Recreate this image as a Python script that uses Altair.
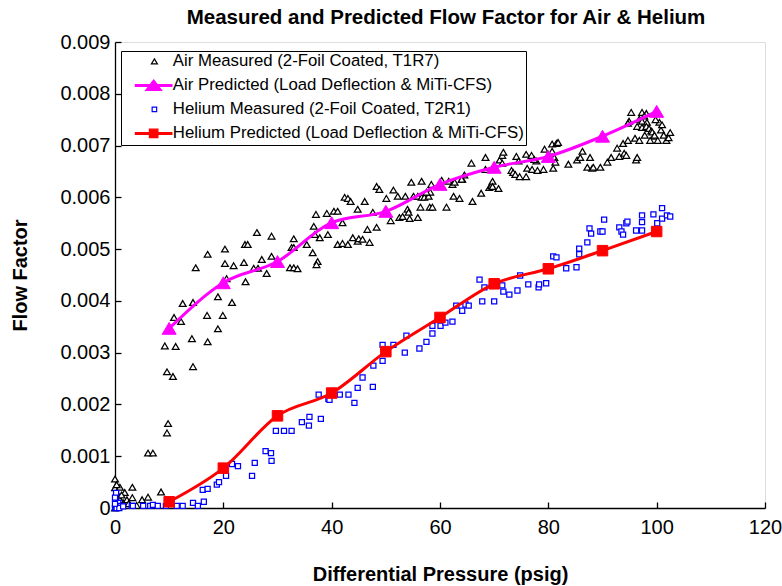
import altair as alt
import pandas as pd

S_AM = "Air Measured (2-Foil Coated, T1R7)"
S_AP = "Air Predicted (Load Deflection & MiTi-CFS)"
S_HM = "Helium Measured (2-Foil Coated, T2R1)"
S_HP = "Helium Predicted (Load Deflection & MiTi-CFS)"
SERIES = [S_AM, S_AP, S_HM, S_HP]
COLORS = ["#000000", "#FF00FF", "#0000FF", "#FF0000"]

x_ticks = [0, 20, 40, 60, 80, 100, 120]
y_ticks = [0, 0.001, 0.002, 0.003, 0.004, 0.005, 0.006, 0.007, 0.008, 0.009]

air_measured = [
    (0.0, 0.00056), (0.0, 0.00039), (0.9, 0.00040), (0.3, 0.00030), (0.5, 0.00020), (0.2, 0.00010),
    (1.0, 0.00015), (1.5, 0.00010), (0.7, 0.00005), (2.2, 0.00016), (0.9, 0.00016), (3.2, 0.00020),
    (3.2, 0.00040), (5.0, 0.00016), (6.1, 0.00021), (8.5, 0.00031), (1.8, 0.00030), (2.5, 0.00008),
    (4.0, 0.00005), (0.0, 0.00000), (0.3, 0.00045), (1.2, 0.00025),
    (6.1, 0.00106), (7.0, 0.00106), (9.8, 0.00163), (9.6, 0.00145), (9.6, 0.00263), (10.7, 0.00254),
    (14.4, 0.00273),
    (9.2, 0.00313), (11.2, 0.00312), (10.9, 0.00368), (12.2, 0.00360), (12.5, 0.00395), (14.4, 0.00397),
    (14.2, 0.00327), (14.9, 0.00464), (17.1, 0.00490), (17.0, 0.00372), (17.1, 0.00321), (19.0, 0.00346),
    (19.0, 0.00408), (19.9, 0.00372), (20.3, 0.00500), (20.3, 0.00472), (20.6, 0.00443), (21.6, 0.00397),
    (21.9, 0.00468), (23.8, 0.00474), (24.1, 0.00437), (24.0, 0.00509), (24.5, 0.00509), (26.2, 0.00532),
    (27.1, 0.00480), (25.6, 0.00463), (26.4, 0.00463), (28.0, 0.00453), (28.9, 0.00525), (28.9, 0.00486),
    (33.0, 0.00520), (32.6, 0.00503), (33.0, 0.00503), (32.3, 0.00464), (33.0, 0.00464), (33.7, 0.00462),
    (35.4, 0.00509), (36.5, 0.00493), (37.1, 0.00567), (36.7, 0.00544), (36.9, 0.00528), (37.8, 0.00522),
    (37.4, 0.00476), (37.2, 0.00470), (39.1, 0.00569), (39.3, 0.00528), (40.4, 0.00573), (41.1, 0.00573),
    (42.0, 0.00551), (42.4, 0.00600), (43.0, 0.00598), (43.5, 0.00592), (44.8, 0.00577), (46.1, 0.00592),
    (41.1, 0.00509), (42.0, 0.00511), (43.0, 0.00509), (43.9, 0.00522), (44.8, 0.00515), (45.0, 0.00520),
    (46.6, 0.00538),
    (47.6, 0.00571), (48.3, 0.00542), (45.7, 0.00519), (47.0, 0.00513), (48.3, 0.00621), (48.8, 0.00615),
    (50.1, 0.00598), (50.9, 0.00555), (51.4, 0.00614), (52.2, 0.00602), (52.5, 0.00561), (53.1, 0.00563),
    (53.6, 0.00602), (54.0, 0.00577), (54.2, 0.00571), (54.4, 0.00559), (54.7, 0.00629), (56.6, 0.00631),
    (55.1, 0.00602), (55.9, 0.00602), (56.6, 0.00600), (57.1, 0.00600), (57.9, 0.00602), (58.2, 0.00610),
    (55.9, 0.00561), (56.4, 0.00581), (58.1, 0.00581), (58.6, 0.00581), (57.5, 0.00610), (58.4, 0.00625),
    (60.3, 0.00633), (61.2, 0.00581), (61.6, 0.00631), (62.3, 0.00625), (62.5, 0.00602), (63.6, 0.00598),
    (64.5, 0.00643), (64.1, 0.00635), (66.0, 0.00592), (67.6, 0.00608), (68.4, 0.00677), (68.4, 0.00654),
    (69.1, 0.00619), (69.5, 0.00623), (69.7, 0.00631), (69.7, 0.00621), (70.8, 0.00617), (71.0, 0.00672),
    (71.5, 0.00681), (71.7, 0.00687), (71.5, 0.00666), (73.2, 0.00652), (73.5, 0.00648), (73.9, 0.00644),
    (74.1, 0.00679), (74.7, 0.00640), (74.5, 0.00670), (75.9, 0.00683), (76.9, 0.00681), (76.1, 0.00656),
    (75.9, 0.00640), (77.0, 0.00654), (78.0, 0.00652), (77.8, 0.00670), (65.8, 0.00666), (62.7, 0.00629),
    (64.0, 0.00635),
    (79.3, 0.00693), (79.1, 0.00654), (77.4, 0.00673), (80.7, 0.00703), (81.5, 0.00704), (81.8, 0.00706),
    (80.7, 0.00689), (81.1, 0.00677), (81.3, 0.00668), (80.9, 0.00656), (83.7, 0.00664), (85.3, 0.00672),
    (85.9, 0.00677), (86.3, 0.00689), (87.7, 0.00677), (87.2, 0.00658), (88.1, 0.00656), (88.3, 0.00658),
    (89.6, 0.00658), (90.9, 0.00668), (91.6, 0.00677), (92.7, 0.00695), (93.8, 0.00704), (94.7, 0.00710),
    (96.0, 0.00714), (96.8, 0.00710), (93.1, 0.00679), (94.0, 0.00685), (94.4, 0.00681), (96.2, 0.00672),
    (96.4, 0.00677), (95.3, 0.00764), (94.9, 0.00747), (94.7, 0.00743), (97.3, 0.00764), (98.1, 0.00762),
    (97.7, 0.00757), (96.8, 0.00751), (97.3, 0.00747), (98.2, 0.00745), (96.4, 0.00737), (97.3, 0.00735),
    (98.1, 0.00737), (98.6, 0.00733), (99.0, 0.00728), (99.2, 0.00726), (99.5, 0.00718), (99.6, 0.00720),
    (100.2, 0.00710), (100.8, 0.00730), (101.3, 0.00720), (101.8, 0.00710), (102.2, 0.00715),
    (100.5, 0.00745), (101.0, 0.00740), (99.8, 0.00750), (102.5, 0.00725), (98.8, 0.00710), (97.8, 0.00720),
]

helium_measured = [
    (0.0, 0.00000), (0.1, 0.00002), (0.2, 0.00005), (0.3, 0.00010), (0.1, 0.00015), (0.4, 0.00008),
    (0.5, 0.00003), (0.6, 0.00010), (0.2, 0.00029), (0.0, 0.00020), (1.0, 0.00004), (0.3, 0.00000),
    (0.8, 0.00000), (0.0, 0.00008), (1.5, 0.00003),
    (3.1, 0.00004), (3.3, 0.00004), (5.2, 0.00004), (6.5, 0.00004), (7.0, 0.00006), (7.9, 0.00004),
    (9.4, 0.00004), (11.4, 0.00004), (12.5, 0.00004), (14.4, 0.00010), (15.3, 0.00004), (16.4, 0.00012),
    (16.2, 0.00035), (17.1, 0.00037), (18.8, 0.00045), (19.2, 0.00050), (20.5, 0.00062), (21.6, 0.00085),
    (22.7, 0.00081), (25.3, 0.00062), (25.8, 0.00087), (27.8, 0.00110), (28.8, 0.00106), (28.9, 0.00091),
    (29.7, 0.00149), (31.2, 0.00149), (32.6, 0.00149), (34.5, 0.00166), (35.8, 0.00159), (35.9, 0.00176),
    (38.0, 0.00172), (37.6, 0.00219), (39.4, 0.00211), (41.5, 0.00219), (43.1, 0.00219), (44.2, 0.00203),
    (44.8, 0.00232), (47.6, 0.00234), (39.6, 0.00209), (45.7, 0.00252), (47.7, 0.00275), (49.4, 0.00284),
    (49.4, 0.00315), (51.4, 0.00315), (53.5, 0.00300), (53.8, 0.00333), (56.2, 0.00308), (57.5, 0.00321),
    (58.6, 0.00337), (58.6, 0.00352), (60.1, 0.00352), (61.0, 0.00358), (62.3, 0.00360), (63.0, 0.00391),
    (64.7, 0.00393), (65.3, 0.00391), (64.1, 0.00381), (67.3, 0.00441), (68.2, 0.00426), (67.8, 0.00399),
    (70.0, 0.00399), (71.5, 0.00430), (71.7, 0.00418), (72.8, 0.00412), (74.3, 0.00420), (74.8, 0.00449),
    (76.3, 0.00432), (78.2, 0.00426), (78.3, 0.00432), (79.6, 0.00434), (80.9, 0.00486), (81.5, 0.00484),
    (83.3, 0.00463), (85.2, 0.00465), (85.7, 0.00501), (85.7, 0.00490), (87.2, 0.00513), (87.6, 0.00540),
    (87.9, 0.00530), (89.6, 0.00534), (90.0, 0.00534), (90.3, 0.00557), (93.1, 0.00542), (93.5, 0.00534),
    (93.8, 0.00528), (94.4, 0.00550), (94.6, 0.00553), (96.2, 0.00536), (97.3, 0.00536), (97.3, 0.00552),
    (97.3, 0.00565), (99.4, 0.00567), (100.1, 0.00550), (101.0, 0.00579), (101.0, 0.00559), (101.9, 0.00565),
    (102.5, 0.00563),
]

predicted_x = [10, 20, 30, 40, 50, 60, 70, 80, 90, 100]
air_predicted = [0.00347, 0.00435, 0.00476, 0.00551, 0.00573, 0.00625, 0.00658, 0.00679, 0.00718, 0.00766]
helium_predicted = [0.00012, 0.00077, 0.00178, 0.00222, 0.00302, 0.00368, 0.00433, 0.00462, 0.00497, 0.00534]

# ---------- tables ----------
df_am = pd.DataFrame(air_measured, columns=["x", "y"]).assign(series=S_AM)
df_hm = pd.DataFrame(helium_measured, columns=["x", "y"]).assign(series=S_HM)
df_ap = pd.DataFrame({"x": predicted_x, "y": air_predicted, "series": S_AP})
df_hp = pd.DataFrame({"x": predicted_x, "y": helium_predicted, "series": S_HP})
df_leg = pd.concat([df_am.head(1), df_ap, df_hm.head(1), df_hp], ignore_index=True)

FONT = "Liberation Sans"

# chart marker shapes
TRI = "M0,-0.85L1,0.85L-1,0.85Z"
SQ = "M-0.75,-0.75H0.75V0.75H-0.75Z"

# legend symbol shapes (unit = 5 px with symbolSize 100); the line samples stop
# short on the right so that they do not run into the labels
LEG_SHAPES = [
    "M-0.2,-0.5L0.4,0.5L-0.8,0.5Z",
    "M-4.0,-0.18H3.3V0.18H-4.0Z M-0.35,-1.1L1.25,1.0L-1.95,1.0Z",
    "M-0.65,-0.45H0.25V0.45H-0.65Z",
    "M-4.0,-0.18H3.3V0.18H-4.0Z M-1.2,-0.85H0.5V0.85H-1.2Z",
]
LEG_FILLS = ["#FFFFFF", "#FF00FF", "#FFFFFF", "#FF0000"]

legend = alt.Legend(
    title=None,
    orient="none",
    legendX=6,
    legendY=9,
    padding=2,
    symbolSize=100,
    symbolStrokeWidth=1.2,
    symbolOpacity=1,
    symbolFillColor="#FFFFFF",
    symbolOffset=24,
    labelOffset=9,
    labelFont=FONT,
    labelFontSize=16.8,
    labelColor="black",
    labelLimit=600,
    rowPadding=6,
    strokeColor="black",
    fillColor="white",
)

x_axis = alt.Axis(
    values=x_ticks,
    title="Differential Pressure (psig)",
    titleFont=FONT,
    titleFontSize=20,
    titleFontWeight="bold",
    titleColor="black",
    titlePadding=27,
    labelFont=FONT,
    labelFontSize=20,
    labelColor="black",
    labelFlush=False,
    labelPadding=9,
    ticks=False,
    domainColor="black",
    domainWidth=1.3,
    grid=False,
)

y_axis = alt.Axis(
    values=y_ticks,
    title="Flow Factor",
    titleFont=FONT,
    titleFontSize=20,
    titleFontWeight="bold",
    titleColor="black",
    titlePadding=29,
    labelFont=FONT,
    labelFontSize=20,
    labelColor="black",
    labelFlush=False,
    labelPadding=5,
    labelExpr="datum.value == 0 ? '0' : format(datum.value, '.3f')",
    ticks=False,
    domainColor="black",
    domainWidth=1.3,
    grid=False,
)

# inward tick marks: axes of the opposite orientation moved onto the plot edges
x_tick_axis = alt.Axis(orient="top", offset=-466, values=x_ticks, labels=False, domain=False,
                       tickSize=6, tickColor="black", tickWidth=1.3, title=None, grid=False)
y_tick_axis = alt.Axis(orient="right", offset=-650, values=y_ticks, labels=False, domain=False,
                       tickSize=6, tickColor="black", tickWidth=1.3, title=None, grid=False)

XS = alt.Scale(domain=[0, 120], nice=False, zero=False)
YS = alt.Scale(domain=[0, 0.009], nice=False, zero=False)
X = alt.X("x:Q", scale=XS, axis=x_axis)
Y = alt.Y("y:Q", scale=YS, axis=y_axis)

air_meas = alt.Chart(df_am).mark_point(shape=TRI, size=46, strokeWidth=1.25, opacity=1).encode(
    x=X, y=Y, stroke=alt.value("#000000"), fill=alt.value("white")
)
he_meas = alt.Chart(df_hm).mark_point(shape=SQ, size=46, strokeWidth=1.25, opacity=1).encode(
    x=X, y=Y, stroke=alt.value("#0000FF"), fill=alt.value("white")
)
air_line = alt.Chart(df_ap).mark_line(interpolate="monotone", strokeWidth=3, color="#FF00FF").encode(x=X, y=Y)
he_line = alt.Chart(df_hp).mark_line(interpolate="monotone", strokeWidth=3, color="#FF0000").encode(x=X, y=Y)
air_pts = alt.Chart(df_ap).mark_point(shape=TRI, size=196, strokeWidth=1, opacity=1, filled=True).encode(
    x=X, y=Y, stroke=alt.value("#FF00FF"), fill=alt.value("#FF00FF")
)
he_pts = alt.Chart(df_hp).mark_point(shape=SQ, size=196, strokeWidth=1, opacity=1, filled=True).encode(
    x=X, y=Y, stroke=alt.value("#FF0000"), fill=alt.value("#FF0000")
)
# invisible layer whose only job is to carry the legend
leg_layer = alt.Chart(df_leg).mark_point(opacity=0).encode(
    x=X,
    y=Y,
    shape=alt.Shape("series:N", scale=alt.Scale(domain=SERIES, range=LEG_SHAPES), legend=legend),
    fill=alt.Fill("series:N", scale=alt.Scale(domain=SERIES, range=LEG_FILLS), legend=legend),
    stroke=alt.Stroke("series:N", scale=alt.Scale(domain=SERIES, range=COLORS), legend=legend),
)

main = alt.layer(air_meas, he_meas, air_line, he_line, air_pts, he_pts, leg_layer)

tick_layer = alt.Chart(df_ap).mark_point(opacity=0).encode(
    x=alt.X("x:Q", scale=XS, axis=x_tick_axis),
    y=alt.Y("y:Q", scale=YS, axis=y_tick_axis),
)

chart = (
    alt.layer(main, tick_layer)
    .resolve_scale(x="independent", y="independent")
    .properties(
        width=650,
        height=466,
        padding={"left": 115, "top": 42, "right": 17, "bottom": 78},
        autosize="none",
        title=alt.TitleParams(
            "Measured and Predicted Flow Factor for Air & Helium",
            font=FONT,
            fontSize=20.5,
            fontWeight="bold",
            color="black",
            anchor="middle",
            offset=4,
            dx=6,
        ),
    )
    .configure_view(stroke="black", strokeWidth=1.3)
    .configure(font=FONT, background="white")
)

chart.save("out.html", embed_options={"renderer": "svg", "actions": False})
